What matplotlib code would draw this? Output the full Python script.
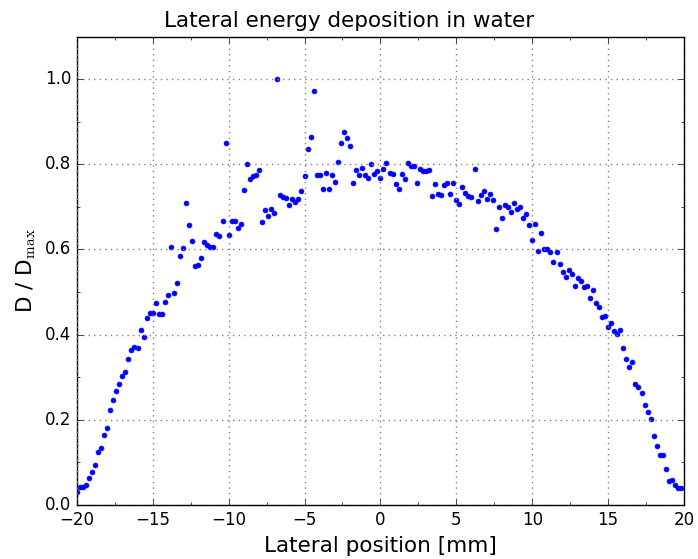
import numpy as np
import matplotlib
matplotlib.use("Agg")
import matplotlib.pyplot as plt
from matplotlib.ticker import AutoMinorLocator

# lateral bins: 0.2 mm wide, starting at -20 mm
x_start = -20.0
x_step = 0.2

# normalised dose per bin (D / Dmax)
dose = [
    0.031, 0.042, 0.042, 0.046, 0.063, 0.077, 0.094, 0.124, 0.135, 0.164,
    0.181, 0.222, 0.246, 0.268, 0.285, 0.303, 0.312, 0.342, 0.365, 0.370,
    0.369, 0.411, 0.394, 0.440, 0.451, 0.450, 0.475, 0.448, 0.448, 0.476,
    0.492, 0.606, 0.497, 0.522, 0.585, 0.604, 0.709, 0.658, 0.620, 0.561,
    0.564, 0.579, 0.617, 0.610, 0.605, 0.605, 0.637, 0.631, 0.666, 0.850,
    0.635, 0.667, 0.667, 0.651, 0.661, 0.739, 0.800, 0.765, 0.772, 0.775,
    0.786, 0.664, 0.692, 0.679, 0.695, 0.685, 1.000, 0.729, 0.723, 0.721,
    0.705, 0.718, 0.711, 0.719, 0.738, 0.772, 0.836, 0.865, 0.973, 0.774,
    0.774, 0.742, 0.780, 0.743, 0.776, 0.758, 0.806, 0.851, 0.876, 0.861,
    0.842, 0.757, 0.787, 0.776, 0.792, 0.774, 0.768, 0.801, 0.778, 0.784,
    0.769, 0.789, 0.804, 0.779, 0.777, 0.753, 0.743, 0.778, 0.765, 0.803,
    0.797, 0.795, 0.757, 0.789, 0.785, 0.784, 0.787, 0.726, 0.754, 0.730,
    0.728, 0.752, 0.756, 0.730, 0.757, 0.717, 0.706, 0.746, 0.732, 0.726,
    0.724, 0.788, 0.713, 0.728, 0.737, 0.718, 0.730, 0.717, 0.648, 0.700,
    0.675, 0.704, 0.699, 0.689, 0.710, 0.696, 0.700, 0.673, 0.684, 0.658,
    0.622, 0.661, 0.597, 0.638, 0.601, 0.601, 0.595, 0.570, 0.594, 0.567,
    0.547, 0.536, 0.552, 0.542, 0.514, 0.532, 0.527, 0.512, 0.514, 0.485,
    0.506, 0.474, 0.466, 0.441, 0.444, 0.417, 0.427, 0.408, 0.402, 0.412,
    0.368, 0.343, 0.325, 0.336, 0.284, 0.276, 0.262, 0.234, 0.219, 0.203,
    0.162, 0.139, 0.117, 0.118, 0.085, 0.057, 0.059, 0.047, 0.041, 0.041,
]

position = x_start + x_step * np.arange(len(dose))

plt.style.use("classic")

fig = plt.figure(figsize=(6.98, 5.59), dpi=100, facecolor="white")
ax = fig.add_axes([0.110, 0.0966, 0.870, 0.838])

ax.plot(position, dose, "b.", markersize=7)

ax.set_xlim(-20, 20)
ax.set_ylim(0.0, 1.1)
ax.set_xticks(np.arange(-20, 21, 5))
ax.set_yticks(np.arange(0.0, 1.01, 0.2))
ax.xaxis.set_minor_locator(AutoMinorLocator(2))
ax.yaxis.set_minor_locator(AutoMinorLocator(2))
ax.grid(True, which="major", color="gray", linestyle=":", linewidth=1)

fig.suptitle("Lateral energy deposition in water", fontsize=15.5,
             x=0.5, y=0.945, va="bottom")
ax.set_xlabel("Lateral position [mm]", fontsize=15.5)
ax.set_ylabel(r"D / D$_\mathrm{max}$", fontsize=15.5)
ax.tick_params(labelsize=12)

fig.savefig("out.png", dpi=100, facecolor="white")
